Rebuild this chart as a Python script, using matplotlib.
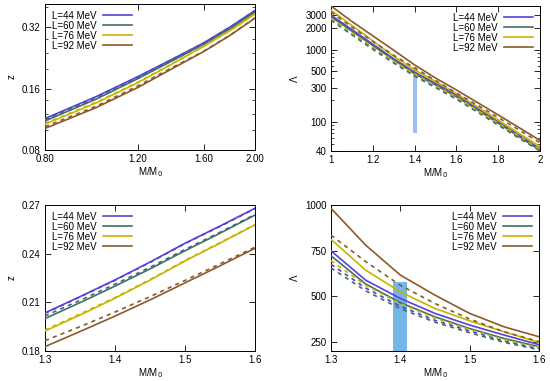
# z and tidal deformability vs mass, four L values

import numpy as np
import matplotlib
matplotlib.use('Agg')
import matplotlib.pyplot as plt
from matplotlib.ticker import FixedLocator, FuncFormatter, NullFormatter, NullLocator

plt.rcParams['font.family'] = ['Liberation Sans', 'DejaVu Sans']

LABELS = ['L=44 MeV', 'L=60 MeV', 'L=76 MeV', 'L=92 MeV']
COLORS = ['#5b3fd8', '#3e6f6a', '#c8b400', '#8b5a2b']
FS = 7

# top left: z vs M/M0 (log-log)
m_tl = [0.8, 1.0, 1.2, 1.4, 1.6, 1.8, 2.0]
z_tl = [[0.114, 0.146, 0.183, 0.224, 0.268, 0.322, 0.386],
        [0.111, 0.142, 0.179, 0.220, 0.264, 0.316, 0.379],
        [0.107, 0.136, 0.171, 0.2125, 0.258, 0.309, 0.371],
        [0.102, 0.129, 0.162, 0.2015, 0.243, 0.293, 0.354]]
z_tl_d = [[0.1135, 0.1455, 0.1825, 0.2236, 0.2677, 0.3215, 0.385],
          [0.112, 0.143, 0.180, 0.221, 0.2642, 0.3165, 0.3795],
          [0.108, 0.137, 0.172, 0.213, 0.258, 0.3095, 0.3715],
          [0.104, 0.131, 0.165, 0.204, 0.244, 0.294, 0.355]]

# bottom left: z vs M/M0 (zoom)
m_bl = [1.3, 1.35, 1.4, 1.45, 1.5, 1.55, 1.6]
z_bl = [[0.2035, 0.2135, 0.2238, 0.2348, 0.2464, 0.2570, 0.2680],
        [0.2000, 0.2098, 0.2200, 0.2306, 0.2418, 0.2526, 0.2638],
        [0.1923, 0.2022, 0.2125, 0.2237, 0.2355, 0.2465, 0.2577],
        [0.1827, 0.1920, 0.2015, 0.2115, 0.2220, 0.2325, 0.2433]]
z_bl_d = [[0.2032, 0.2133, 0.2236, 0.2346, 0.2462, 0.2568, 0.2677],
          [0.2016, 0.2112, 0.2212, 0.2316, 0.2426, 0.2532, 0.2642],
          [0.1930, 0.2028, 0.2130, 0.2241, 0.2358, 0.2468, 0.2580],
          [0.1864, 0.1950, 0.2040, 0.2135, 0.2235, 0.2337, 0.2440]]

# top right: Lambda vs M/M0 (log)
m_tr = [1.0, 1.1, 1.2, 1.3, 1.4, 1.5, 1.6, 1.7, 1.8, 1.9, 2.0]
lam_tr = [[3000, 1890, 1190, 749, 488, 342, 237, 155, 101, 66, 43],
          [2850, 1800, 1140, 722, 465, 325, 224, 148, 97, 63, 41],
          [3500, 2150, 1320, 812, 524, 365, 247, 163, 107, 70, 46],
          [4000, 2450, 1550, 982, 616, 406, 278, 187, 126, 84, 56]]
lam_tr_d = [[2650, 1650, 1050, 675, 445, 310, 213, 142, 94, 62, 41],
            [2550, 1600, 1010, 655, 432, 300, 207, 138, 91, 60, 40],
            [2700, 1700, 1080, 695, 460, 318, 220, 146, 97, 64, 42],
            [3300, 2050, 1300, 835, 560, 375, 252, 172, 116, 78, 52]]

# bottom right: Lambda vs M/M0 (zoom)
m_br = [1.3, 1.35, 1.4, 1.45, 1.5, 1.55, 1.6]
lam_br = [[749, 588, 488, 406, 342, 287, 235],
          [722, 567, 465, 387, 323, 268, 224],
          [812, 643, 524, 433, 365, 305, 247],
          [982, 780, 616, 506, 406, 332, 278]]
lam_br_d = [[675, 545, 445, 368, 310, 255, 213],
            [655, 530, 432, 358, 300, 247, 207],
            [695, 560, 460, 380, 318, 262, 220],
            [835, 690, 560, 460, 375, 305, 252]]

# GW170817 band at 1.4 M0
band_m = [1.39, 1.41]
band_lam = [70, 580]


def style_axes(ax):
    ax.tick_params(direction='in', top=True, right=True, labelsize=FS,
                   length=4, width=0.6, pad=3)
    ax.tick_params(which='minor', direction='in', top=True, right=True,
                   length=2, width=0.5)
    for s in ax.spines.values():
        s.set_linewidth(0.7)
    ax.set_xlabel('M/M$_0$', fontsize=FS, labelpad=1)


def draw_lines(ax, x, solid, dashed, loc):
    for i in range(4):
        ax.plot(x, solid[i], color=COLORS[i], lw=1.2, label=LABELS[i], zorder=3)
        ax.plot(x, dashed[i], color=COLORS[i], lw=1.2, ls=(0, (2.5, 2.5)), zorder=3)
    ax.legend(loc=loc, frameon=False, fontsize=FS, markerfirst=False,
              handlelength=3.0, handletextpad=0.7, labelspacing=0.0,
              borderaxespad=0.3)


fmt_g = FuncFormatter(lambda v, p: '%g' % v)
fmt_2 = FuncFormatter(lambda v, p: '%.2f' % v)

fig = plt.figure(figsize=(5.5, 3.81), dpi=100)

# top left
ax = fig.add_axes([45 / 550, 1 - 150 / 381, 210 / 550, 146 / 381])
draw_lines(ax, m_tl, z_tl, z_tl_d, 'upper left')
ax.set_xscale('log')
ax.set_yscale('log', base=2)
ax.set_xlim(0.8, 2.0)
ax.set_ylim(0.08, 0.415)
ax.xaxis.set_major_locator(FixedLocator([0.8, 1.2, 1.6, 2.0]))
ax.xaxis.set_major_formatter(fmt_2)
ax.xaxis.set_minor_locator(NullLocator())
ax.yaxis.set_major_locator(FixedLocator([0.08, 0.16, 0.32]))
ax.yaxis.set_major_formatter(fmt_2)
ax.yaxis.set_minor_locator(FixedLocator([0.1, 0.12, 0.14, 0.2, 0.24, 0.28, 0.4]))
ax.yaxis.set_minor_formatter(NullFormatter())
ax.set_ylabel('z', fontsize=FS, labelpad=4)
style_axes(ax)

# top right
ax = fig.add_axes([331 / 550, 1 - 151 / 381, 209 / 550, 145 / 381])
ax.fill_betweenx(band_lam, band_m[0], band_m[1], color='#9dbff0', lw=0, zorder=2)
draw_lines(ax, m_tr, lam_tr, lam_tr_d, 'upper right')
ax.set_yscale('log')
ax.set_xlim(1, 2)
ax.set_ylim(40, 4000)
ax.xaxis.set_major_locator(FixedLocator([1, 1.2, 1.4, 1.6, 1.8, 2]))
ax.xaxis.set_major_formatter(fmt_g)
ax.yaxis.set_major_locator(FixedLocator([40, 100, 300, 500, 1000, 2000, 3000]))
ax.yaxis.set_major_formatter(fmt_g)
ax.yaxis.set_minor_formatter(NullFormatter())
ax.set_ylabel('Λ', fontsize=FS, labelpad=4)
style_axes(ax)

# bottom left
ax = fig.add_axes([45 / 550, 1 - 351 / 381, 210 / 550, 146 / 381])
draw_lines(ax, m_bl, z_bl, z_bl_d, 'upper left')
ax.set_xlim(1.3, 1.6)
ax.set_ylim(0.18, 0.27)
ax.xaxis.set_major_locator(FixedLocator([1.3, 1.4, 1.5, 1.6]))
ax.xaxis.set_major_formatter(fmt_g)
ax.yaxis.set_major_locator(FixedLocator([0.18, 0.21, 0.24, 0.27]))
ax.yaxis.set_major_formatter(fmt_2)
ax.set_ylabel('z', fontsize=FS, labelpad=4)
style_axes(ax)

# bottom right
ax = fig.add_axes([331 / 550, 1 - 351 / 381, 208 / 550, 146 / 381])
ax.fill_betweenx(band_lam, band_m[0], band_m[1], color='#74b6e8', lw=0, zorder=2)
draw_lines(ax, m_br, lam_br, lam_br_d, 'upper right')
ax.set_xlim(1.3, 1.6)
ax.set_ylim(200, 1000)
ax.xaxis.set_major_locator(FixedLocator([1.3, 1.4, 1.5, 1.6]))
ax.xaxis.set_major_formatter(fmt_g)
ax.yaxis.set_major_locator(FixedLocator([250, 500, 750, 1000]))
ax.yaxis.set_major_formatter(fmt_g)
ax.set_ylabel('Λ', fontsize=FS, labelpad=4)
style_axes(ax)

fig.savefig('out.png', dpi=100)
